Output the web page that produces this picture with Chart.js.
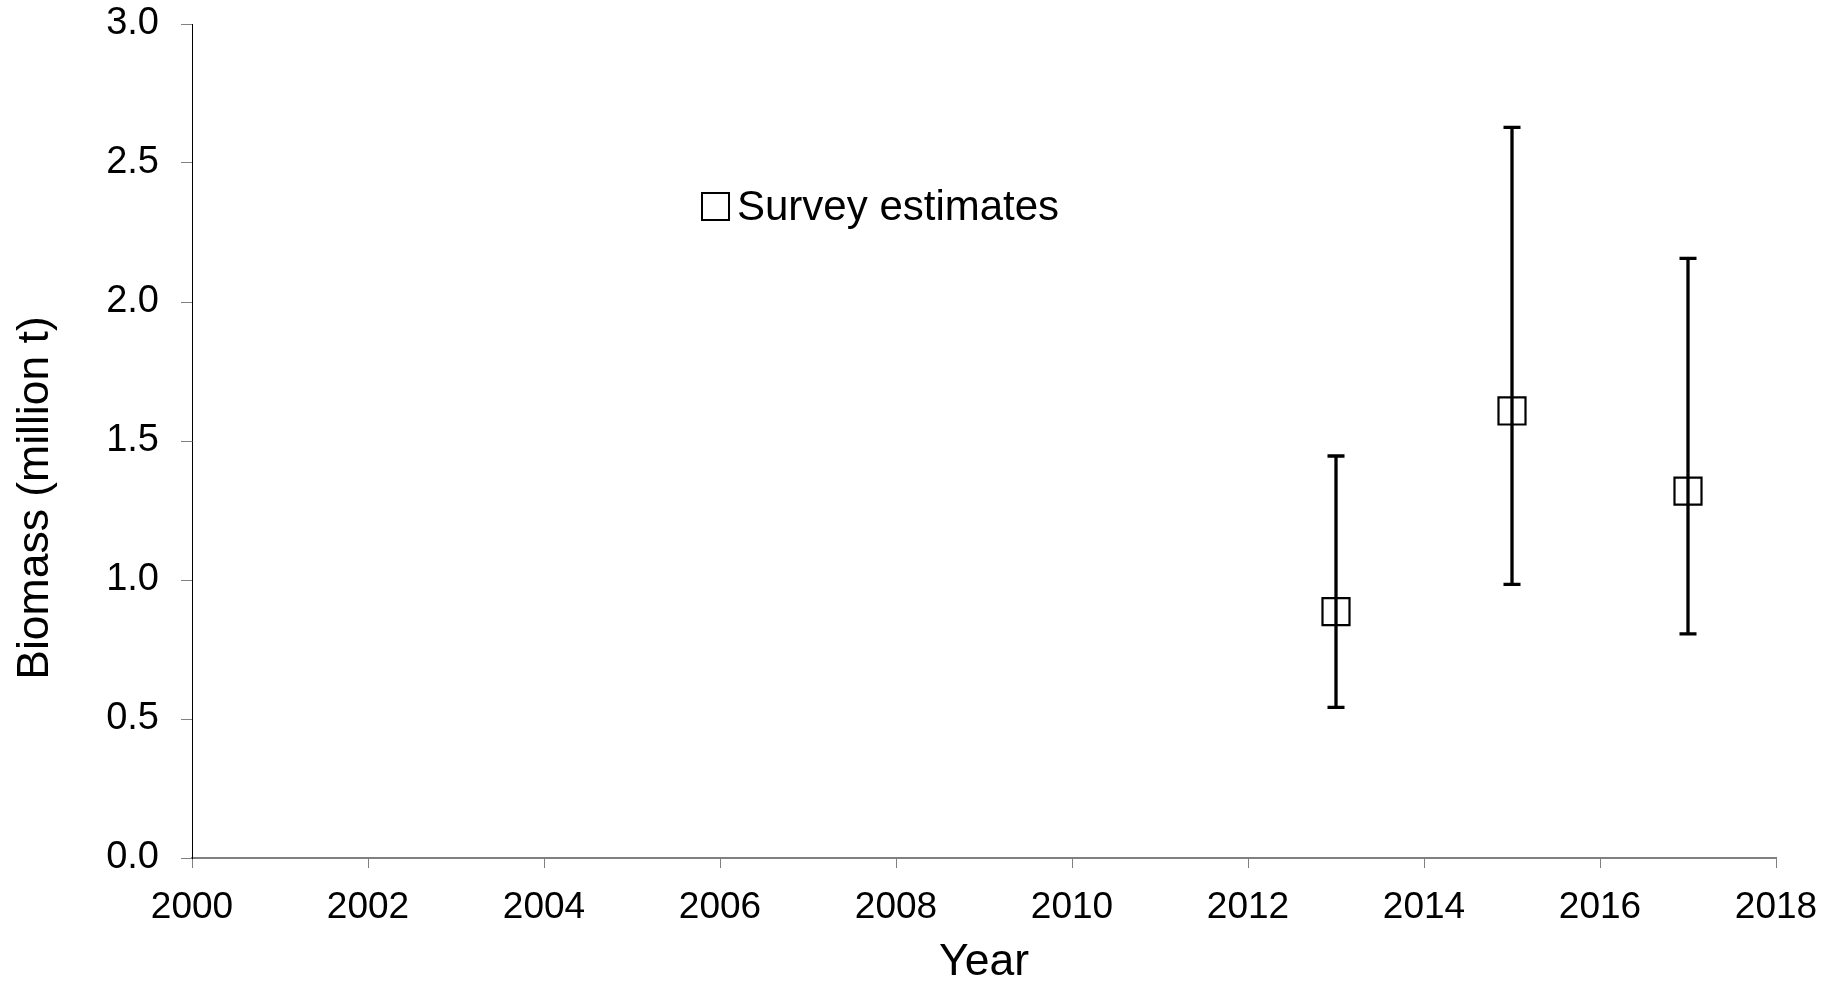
<!DOCTYPE html>
<html>
<head>
<meta charset="utf-8">
<script src="https://cdn.jsdelivr.net/npm/chart.js@4"></script>
<style>
  html, body { margin: 0; padding: 0; background: #fff; }
  #wrap { width: 1837px; height: 984px; position: relative; }
</style>
</head>
<body>
<div id="wrap"><canvas id="c"></canvas></div>
<script>
const years = [2013, 2015, 2017];
const estimates = [0.886, 1.608, 1.320];
const lowerCI = [0.542, 0.984, 0.806];
const upperCI = [1.446, 2.628, 2.157];
const xTickValues = [2000, 2002, 2004, 2006, 2008, 2010, 2012, 2014, 2016, 2018];
const yTickValues = [0.0, 0.5, 1.0, 1.5, 2.0, 2.5, 3.0];
const seriesLabel = 'Survey estimates';
const xTitle = 'Year';
const yTitle = 'Biomass (million t)';

const FONT = '"Liberation Sans", Arial, Helvetica, sans-serif';

const errorBarPlugin = {
  id: 'errorBars',
  afterDatasetsDraw(chart) {
    const ctx = chart.ctx;
    const xs = chart.scales.x, ys = chart.scales.y;
    ctx.save();
    ctx.strokeStyle = '#000';
    ctx.lineWidth = 3.3;
    ctx.lineCap = 'butt';
    for (let i = 0; i < years.length; i++) {
      const x = xs.getPixelForValue(years[i]);
      const yl = ys.getPixelForValue(lowerCI[i]);
      const yu = ys.getPixelForValue(upperCI[i]);
      ctx.beginPath();
      ctx.moveTo(x, yu - 1.6); ctx.lineTo(x, yl + 1.6);
      ctx.moveTo(x - 8.5, yu); ctx.lineTo(x + 8.5, yu);
      ctx.moveTo(x - 8.5, yl); ctx.lineTo(x + 8.5, yl);
      ctx.stroke();
    }
    ctx.restore();
  }
};

const titlesPlugin = {
  id: 'titlesLegend',
  afterDraw(chart) {
    const ctx = chart.ctx;
    const a = chart.chartArea;
    ctx.save();
    ctx.fillStyle = '#000';
    ctx.font = '44.5px ' + FONT;
    // X title
    ctx.textAlign = 'center';
    ctx.textBaseline = 'alphabetic';
    ctx.fillText(xTitle, (a.left + a.right) / 2, a.bottom + 117);
    // Y title
    ctx.save();
    ctx.translate(a.left - 144, a.top + 474);
    ctx.rotate(-Math.PI / 2);
    ctx.fillText(yTitle, 0, 0);
    ctx.restore();
    // Legend
    const lx = a.left + 510;
    const ly = a.top + 169;
    ctx.strokeStyle = '#000';
    ctx.lineWidth = 2;
    ctx.strokeRect(lx, ly, 27, 27);
    ctx.textAlign = 'left';
    ctx.font = '42px ' + FONT;
    ctx.fillText(seriesLabel, lx + 35, ly + 27);
    ctx.restore();
  }
};

new Chart(document.getElementById('c'), {
  type: 'scatter',
  data: {
    datasets: [{
      label: seriesLabel,
      data: years.map((y, i) => ({ x: y, y: estimates[i] })),
      pointStyle: 'rect',
      pointRadius: 19.1,
      pointHoverRadius: 19.1,
      borderColor: '#000',
      backgroundColor: 'rgba(0,0,0,0)',
      borderWidth: 2.2,
      pointBorderWidth: 2.2
    }]
  },
  options: {
    responsive: true,
    maintainAspectRatio: false,
    animation: false,
    events: [],
    layout: { padding: { left: 0, top: 24, right: 61, bottom: 0 } },
    plugins: {
      legend: { display: false },
      tooltip: { enabled: false }
    },
    scales: {
      x: {
        type: 'linear',
        min: 2000, max: 2018,
        afterBuildTicks: (s) => { s.ticks = xTickValues.map(v => ({ value: v })); },
        afterFit: (s) => { s.height = 126; s.paddingLeft = 0; s.paddingRight = 0; },
        ticks: {
          callback: (v) => String(v),
          font: { size: 37, family: FONT },
          color: '#000',
          padding: 18,
          maxRotation: 0,
          autoSkip: false
        },
        grid: {
          drawOnChartArea: false,
          drawTicks: true,
          tickLength: 10,
          color: '#808080',
          lineWidth: 1
        },
        border: { display: true, color: '#808080', width: 2 }
      },
      y: {
        type: 'linear',
        min: 0, max: 3,
        afterBuildTicks: (s) => { s.ticks = yTickValues.map(v => ({ value: v })); },
        afterFit: (s) => { s.width = 192; s.paddingTop = 0; s.paddingBottom = 0; },
        ticks: {
          callback: (v) => Number(v).toFixed(1),
          font: { size: 38, family: FONT },
          color: '#000',
          padding: 22
        },
        grid: {
          drawOnChartArea: false,
          drawTicks: true,
          tickLength: 11,
          color: '#808080',
          lineWidth: 1
        },
        border: { display: true, color: '#000', width: 1 }
      }
    }
  },
  plugins: [errorBarPlugin, titlesPlugin]
});
</script>
</body>
</html>
